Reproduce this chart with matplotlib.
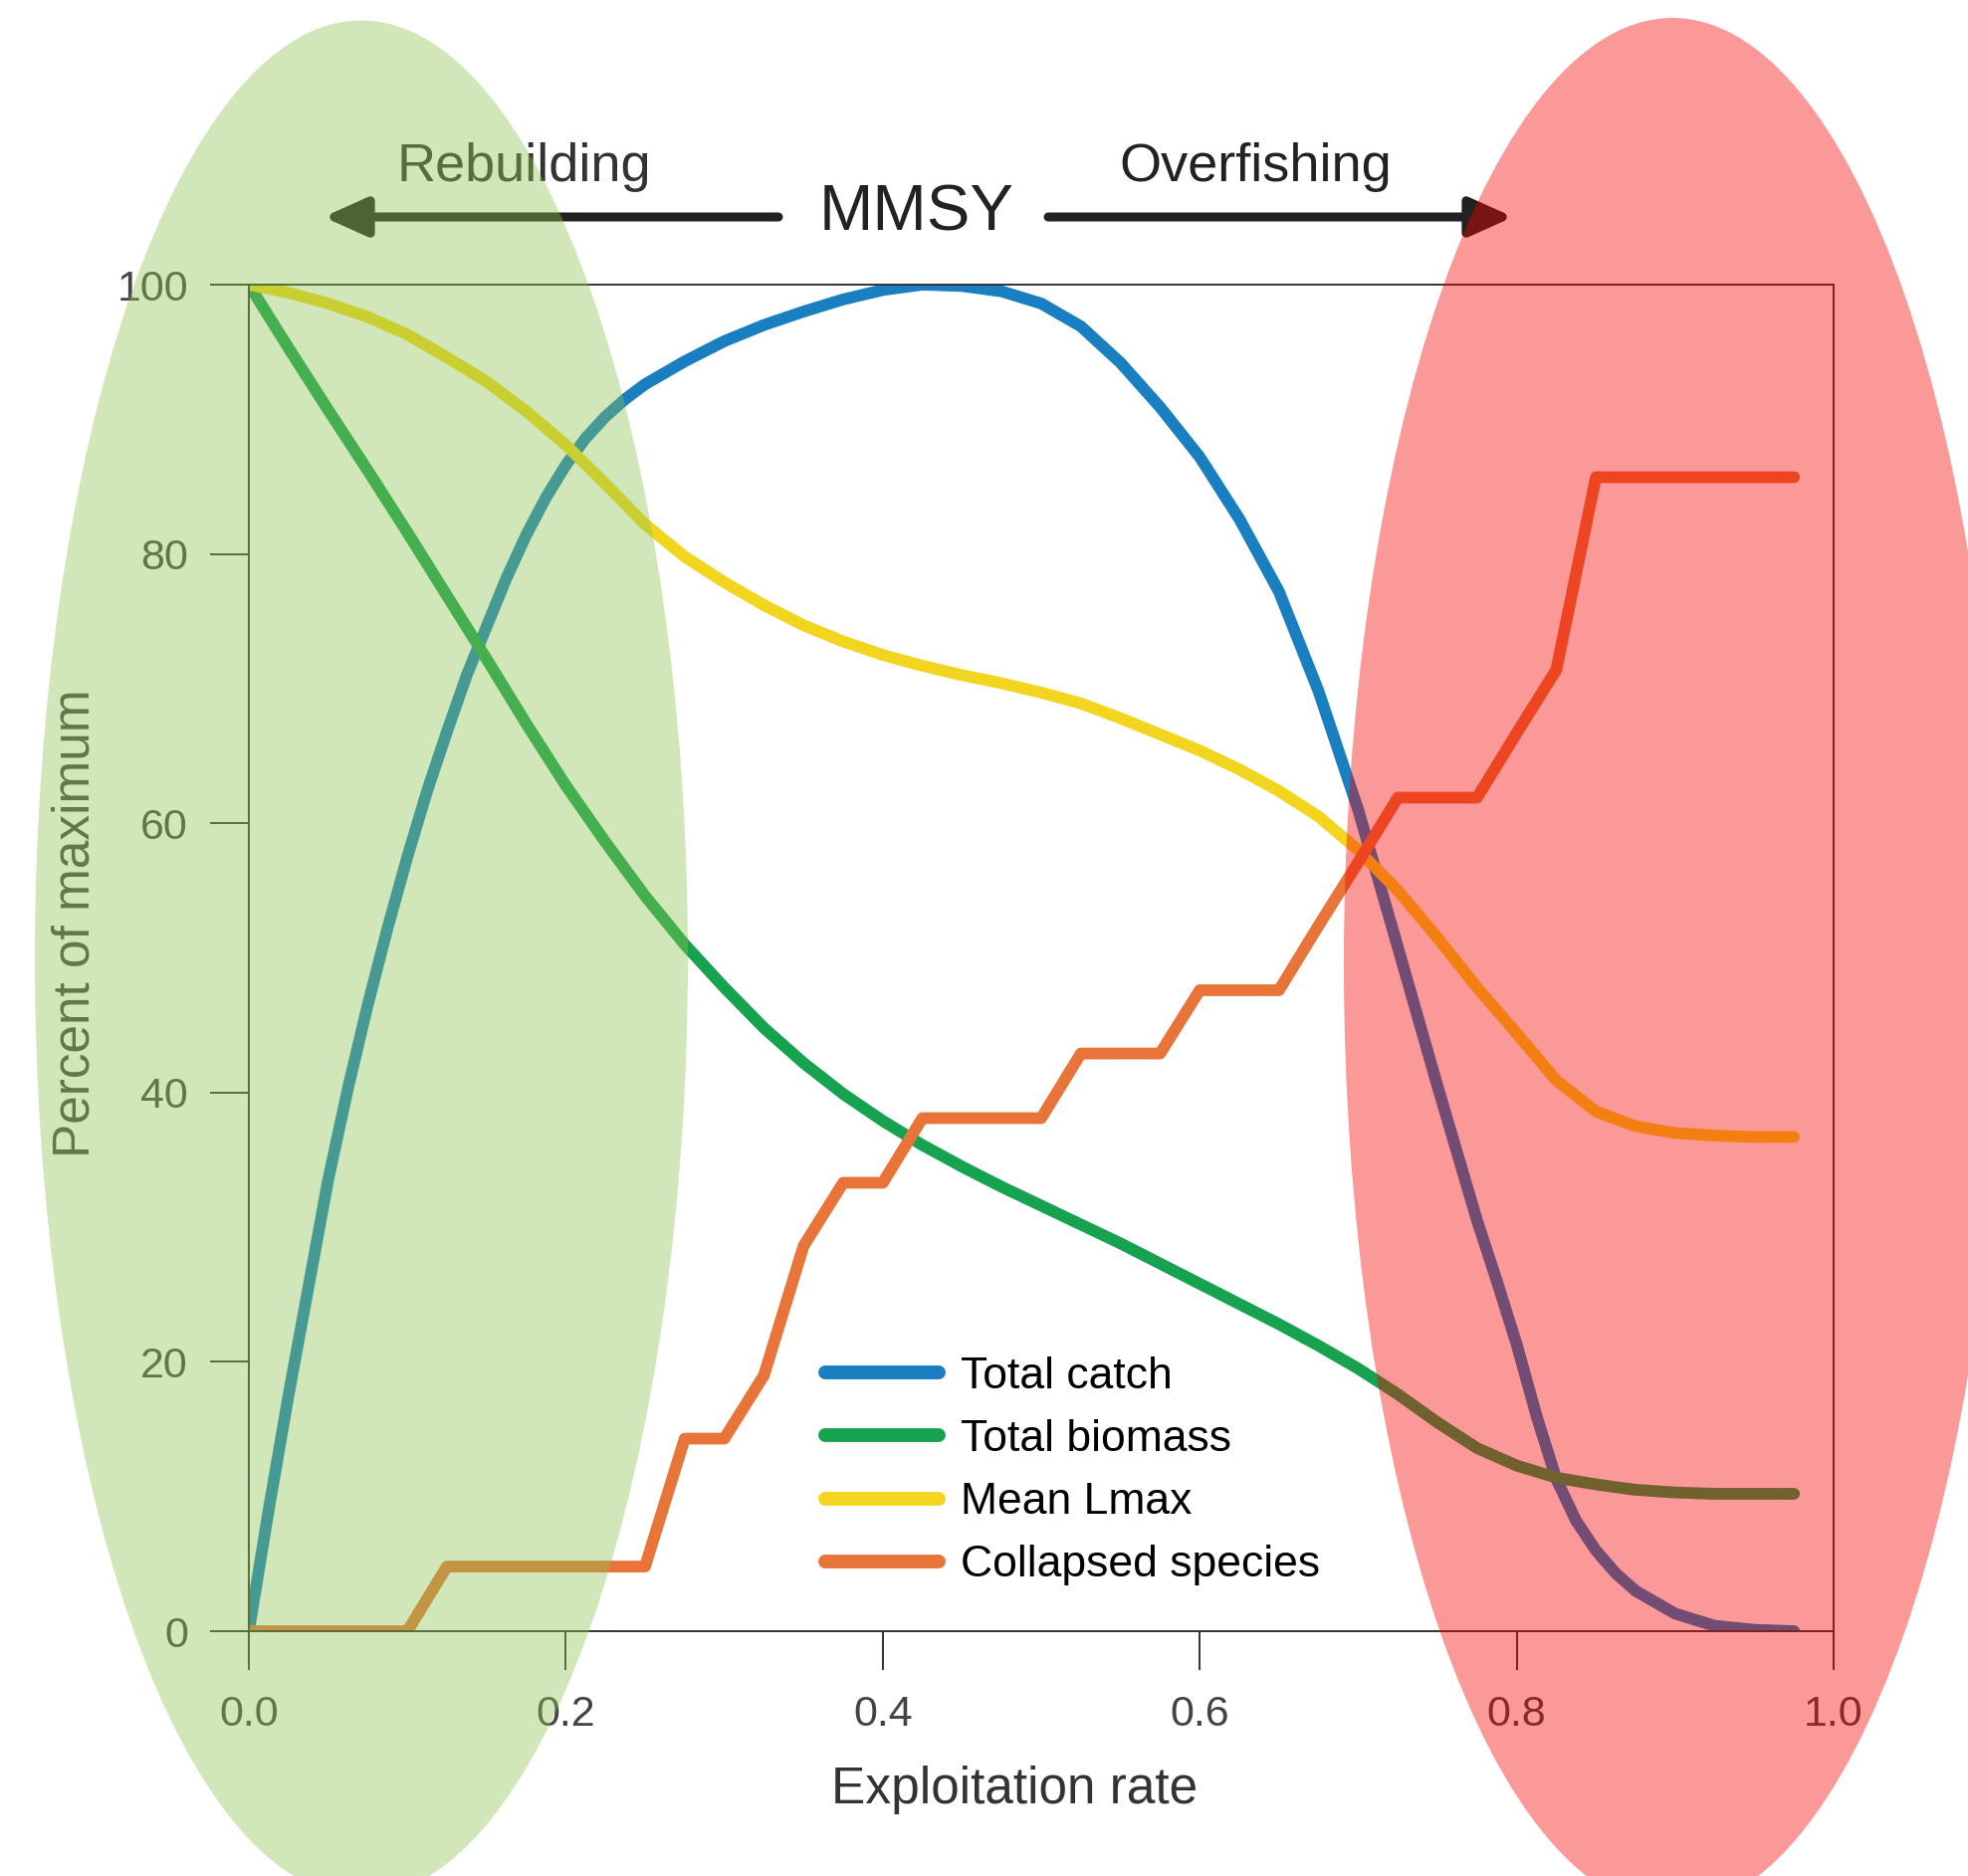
import matplotlib
matplotlib.use("Agg")
import matplotlib.pyplot as plt
from matplotlib.patches import Ellipse, FancyArrowPatch

plt.rcParams['font.family'] = ['Liberation Sans', 'DejaVu Sans']

######################################################## Data ######################################################
exploitation = [0.0, 0.025, 0.05, 0.075, 0.1, 0.125, 0.15, 0.175, 0.2, 0.225,
                0.25, 0.275, 0.3, 0.325, 0.35, 0.375, 0.4, 0.425, 0.45, 0.475,
                0.5, 0.525, 0.55, 0.575, 0.6, 0.625, 0.65, 0.675, 0.7, 0.725,
                0.75, 0.775, 0.8, 0.825, 0.85, 0.875, 0.9, 0.925, 0.95, 0.975]

# total catch read on a finer grid where it bends sharply
catch_x = [0.0, 0.0125, 0.025, 0.0375, 0.05, 0.0625, 0.075, 0.0875, 0.1, 0.1125,
           0.125, 0.1375, 0.15, 0.1625, 0.175, 0.1875, 0.2, 0.2125, 0.225, 0.2375,
           0.25, 0.275, 0.3, 0.325, 0.35, 0.375, 0.4, 0.425, 0.45, 0.475,
           0.5, 0.525, 0.55, 0.575, 0.6, 0.625, 0.65, 0.675, 0.7, 0.725,
           0.75, 0.775, 0.7875, 0.8, 0.8125, 0.825, 0.8375, 0.85, 0.8625, 0.875,
           0.9, 0.925, 0.95, 0.975]
total_catch = [0, 9.0, 17.5, 25.5, 33.5, 40.3, 46.5, 52.2, 57.5, 62.4,
               66.8, 71.0, 74.6, 78.2, 81.4, 84.2, 86.6, 88.6, 90.2, 91.5,
               92.6, 94.3, 95.8, 97.0, 98.0, 98.9, 99.6, 100, 99.9, 99.5,
               98.6, 96.9, 94.2, 90.9, 87.2, 82.6, 77.2, 69.8, 61.0, 50.8,
               40.5, 30.5, 26.0, 21.3, 16.0, 11.3, 8.2, 6.0, 4.3, 3.0,
               1.3, 0.4, 0.1, 0]

total_biomass = [100, 95.3, 90.7, 86.2, 81.6, 76.9, 72.2, 67.4, 62.8, 58.6,
                 54.6, 51.0, 47.8, 44.8, 42.2, 39.9, 37.9, 36.1, 34.5, 33.0,
                 31.6, 30.2, 28.8, 27.3, 25.8, 24.3, 22.8, 21.2, 19.5, 17.6,
                 15.5, 13.6, 12.3, 11.4, 10.9, 10.5, 10.3, 10.2, 10.2, 10.2]

mean_lmax = [100, 99.4, 98.6, 97.6, 96.3, 94.6, 92.8, 90.6, 88.1, 85.2,
             82.2, 79.8, 77.9, 76.2, 74.7, 73.5, 72.5, 71.7, 71.0, 70.4,
             69.7, 68.9, 67.8, 66.6, 65.4, 64.0, 62.4, 60.5, 58.0, 55.0,
             51.5, 47.8, 44.4, 40.9, 38.6, 37.5, 37.0, 36.8, 36.7, 36.7]

collapsed = [0, 0, 0, 0, 0, 4.8, 4.8, 4.8, 4.8, 4.8,
             4.8, 14.3, 14.3, 19.0, 28.6, 33.3, 33.3, 38.1, 38.1, 38.1,
             38.1, 42.9, 42.9, 42.9, 47.6, 47.6, 47.6, 52.4, 57.1, 61.9,
             61.9, 61.9, 66.7, 71.4, 85.7, 85.7, 85.7, 85.7, 85.7, 85.7]

series_labels = ["Total catch", "Total biomass", "Mean Lmax", "Collapsed species"]
series_colors = ["#1a7fc1", "#17a24f", "#f2d51e", "#e8743a"]

x_ticks = [0.0, 0.2, 0.4, 0.6, 0.8, 1.0]
y_ticks = [0, 20, 40, 60, 80, 100]
###################################################################################################################

W, H = 1977, 1885
fig = plt.figure(figsize=(W / 100, H / 100), dpi=100)
ax = fig.add_axes([250 / W, 1 - 1639 / H, 1592 / W, 1353 / H])

series = [(catch_x, total_catch), (exploitation, total_biomass),
          (exploitation, mean_lmax), (exploitation, collapsed)]
for (xs, ys), label, color in zip(series, series_labels, series_colors):
    ax.plot(xs, ys, color=color, lw=8.5, label=label,
            solid_capstyle='round', solid_joinstyle='round')

ax.set_xlim(0, 1.0)
ax.set_ylim(0, 100)
ax.set_xticks(x_ticks)
ax.set_xticklabels([f"{t:.1f}" for t in x_ticks])
ax.set_yticks(y_ticks)
ax.tick_params(length=28, width=1.4, color="#333333", labelsize=31,
               labelcolor="#444444")
ax.tick_params(axis='x', pad=18)
ax.tick_params(axis='y', pad=16)
for sp in ax.spines.values():
    sp.set_linewidth(1.4)
    sp.set_color("#333333")

ax.set_xlabel("Exploitation rate", fontsize=37, color="#333333")
ax.xaxis.set_label_coords(0.483, -0.100)
ax.set_ylabel("Percent of maximum", fontsize=37, color="#444444")
ax.yaxis.set_label_coords(-0.094, 0.526)

leg = ax.legend(loc='center left', bbox_to_anchor=(0.364, 0.119), frameon=False,
                fontsize=32, handlelength=2.55, handletextpad=0.5,
                labelspacing=0.5, borderpad=0, borderaxespad=0)
for h in leg.get_lines():
    h.set_linewidth(10)

# header: MMSY with arrows
fig.text(526 / W, 1 - 168 / H, "Rebuilding", fontsize=39, color="#333333",
         ha='center', va='center')
fig.text(1261 / W, 1 - 168 / H, "Overfishing", fontsize=39, color="#222222",
         ha='center', va='center')
fig.text(921 / W, 1 - 214 / H, "MMSY", fontsize=47, color="#222222",
         ha='center', va='center')

arrow_y = 1 - 218 / H
for x0, x1 in [(782, 325), (1053, 1520)]:
    arr = FancyArrowPatch((x0 / W, arrow_y), (x1 / W, arrow_y),
                          transform=fig.transFigure, shrinkA=0, shrinkB=0,
                          arrowstyle='-|>,head_length=1.0,head_width=0.45',
                          mutation_scale=26, lw=6.5, color="#222222")
    fig.add_artist(arr)

# translucent zones on top of everything
green_zone = Ellipse((363 / W, 1 - 963 / H), 656 / W, 1885 / H,
                     transform=fig.transFigure, facecolor=(140 / 255, 197 / 255, 80 / 255),
                     alpha=0.4, edgecolor='none', zorder=10)
red_zone = Ellipse((1680 / W, 1 - 968 / H), 660 / W, 1900 / H,
                   transform=fig.transFigure, facecolor=(247 / 255, 0, 0),
                   alpha=0.4, edgecolor='none', zorder=10)
fig.add_artist(green_zone)
fig.add_artist(red_zone)

fig.savefig("out.png", dpi=100)
